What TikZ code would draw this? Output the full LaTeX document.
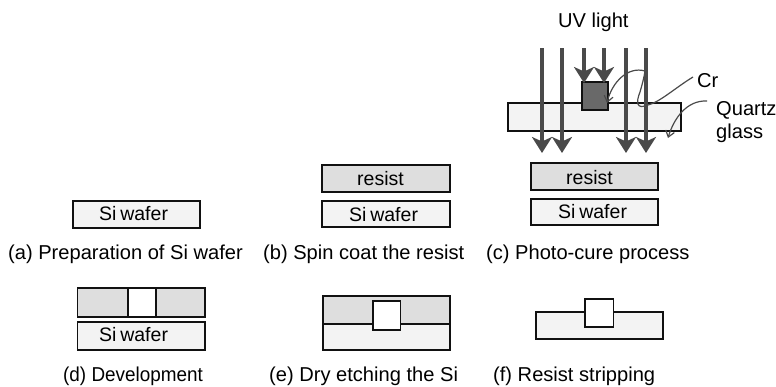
\documentclass[tikz,border=0pt]{standalone}
\usepackage{fontspec}
\setmainfont{Liberation Sans}
\newfontfamily\boxfont[WordSpace=0.7]{Liberation Sans}
\usetikzlibrary{arrows.meta}
\definecolor{edgec}{HTML}{111111}
\definecolor{arrowc}{HTML}{4A4A4A}
\definecolor{resistc}{HTML}{DEDEDE}
\definecolor{siliconc}{HTML}{F3F3F3}
\definecolor{crc}{HTML}{696969}
\tikzset{
  x=1pt,y=-1pt,
  lab/.style={inner sep=0pt,anchor=base west,font=\fontsize{20.1}{24}\selectfont,text=black},
  boxtext/.style={inner sep=0pt,anchor=base west,font=\boxfont\fontsize{19.5}{23}\selectfont,text=black},
  layer/.style={draw=edgec,line width=1.6pt},
  si/.style={layer,fill=siliconc},
  res/.style={layer,fill=resistc},
  hole/.style={layer,fill=white},
  uv/.style={draw=arrowc,line width=4.5pt,-{Stealth[length=16pt,width=20pt,inset=4.5pt]}},
  leader/.style={draw=arrowc,line width=1.2pt},
  leadarrow/.style={leader,-{Straight Barb[length=6pt,width=9pt]}},
}
\begin{document}
\begin{tikzpicture}
\useasboundingbox (0,0) rectangle (776,386);
% (a)
\draw[si] (73,201) rectangle (200,228);
\node[boxtext] (sia) at (99,220) {Si wafer};
\node[lab] (capa) at (8,259.5) {(a) Preparation of Si wafer};
% (b)
\draw[res] (322,165) rectangle (450,192);
\draw[si] (322,201) rectangle (450,227);
\node[boxtext] (resb) at (357,185) {resist};
\node[boxtext] (sib) at (349,221) {Si wafer};
\node[lab] (capb) at (263,259.5) {(b) Spin coat the resist};
% (c)
\node[lab] (uvl) at (558,27) {UV light};
\draw[si] (508,103) rectangle (681,131);
\draw[layer,fill=crc] (582,82) rectangle (608,110);
\coordinate (a1s) at (542,48); \coordinate (a1e) at (542,153);
\coordinate (a2s) at (562,48); \coordinate (a2e) at (562,153);
\coordinate (a3s) at (584,48); \coordinate (a3e) at (584,83);
\coordinate (a4s) at (604,48); \coordinate (a4e) at (604,83);
\coordinate (a5s) at (626,48); \coordinate (a5e) at (626,153);
\coordinate (a6s) at (646,48); \coordinate (a6e) at (646,153);
\foreach \i in {1,...,6} \draw[uv] (a\i s) -- (a\i e);
\node[lab] (crl) at (697,87) {Cr};
\node[lab] (qa) at (716,115) {Quartz};
\node[lab] (qb) at (716,138.5) {glass};
\coordinate (cr1) at (693,77);
\coordinate (crtip) at (607,103);
\coordinate (q1) at (707,101);
\coordinate (qtip) at (668,138);
\draw[leadarrow] (cr1) .. controls (675,88) and (660,102) .. (648,105)
  .. controls (636,110) and (636,102) .. (640,92)
  .. controls (642,85) and (644,78) .. (645,71)
  .. controls (628,66) and (612,82) .. (crtip);
\draw[leadarrow] (q1) .. controls (687,100) and (674,118) .. (qtip);
\draw[res] (531,163) rectangle (658,190);
\draw[si] (531,199) rectangle (658,225);
\node[boxtext] (resc) at (566,184) {resist};
\node[boxtext] (sic) at (558,218) {Si wafer};
\node[lab] (capc) at (486,259.5) {(c) Photo-cure process};
% (d)
\draw[res] (77.5,288) rectangle (205,317);
\draw[hole] (128,288) rectangle (156,317);
\draw[si] (77.5,322) rectangle (205,350);
\node[boxtext] (sid) at (99,341) {Si wafer};
\node[lab] (capd) at (63,381.5) {\scalebox{0.94}[1]{(d) Development}};
% (e)
\draw[res] (323,296) rectangle (450,324);
\draw[si] (323,324) rectangle (450,350);
\draw[hole] (373,301) rectangle (400.5,330);
\node[lab] (cape) at (269,381.5) {(e) Dry etching the Si};
% (f)
\draw[si] (536,312) rectangle (663,339);
\draw[hole] (585,299) rectangle (613.5,327);
\node[lab] (capf) at (493,381.5) {(f) Resist stripping};
\end{tikzpicture}
\end{document}
